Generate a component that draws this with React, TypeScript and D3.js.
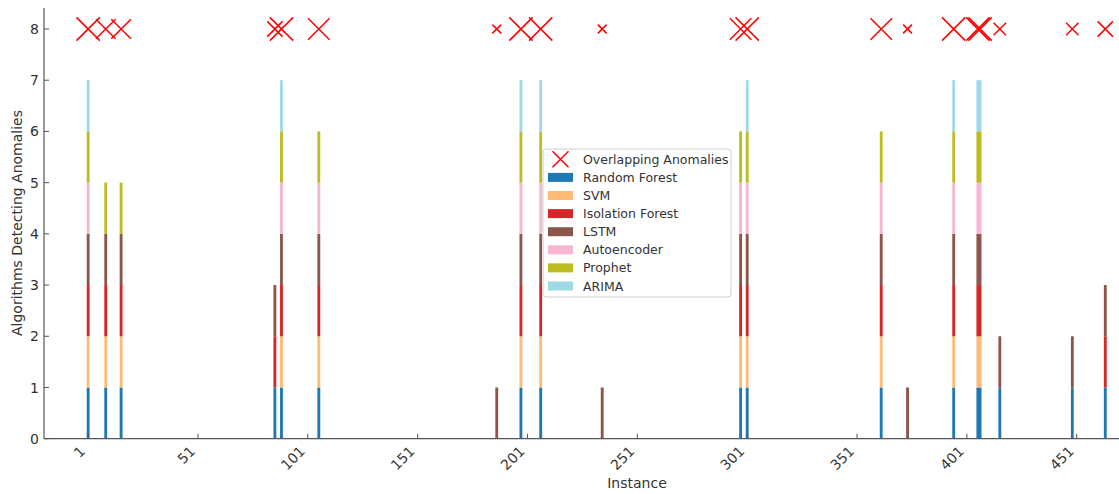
import React from "react";
import * as d3 from "d3";

const instances = [1, 9, 16, 86, 89, 106, 187, 198, 207, 235, 298, 301, 362, 374, 395, 406, 407, 416, 449, 464];
const algorithms = ["Random Forest", "SVM", "Isolation Forest", "LSTM", "Autoencoder", "Prophet", "ARIMA"];
const randomForest = [1, 1, 1, 1, 1, 1, 0, 1, 1, 0, 1, 1, 1, 0, 1, 1, 1, 1, 1, 1];
const svm =          [1, 1, 1, 0, 1, 1, 0, 1, 1, 0, 1, 1, 1, 0, 1, 1, 1, 0, 0, 0];
const isoForest =    [1, 1, 1, 1, 1, 1, 0, 1, 1, 0, 1, 1, 1, 0, 1, 1, 1, 0, 0, 1];
const lstm =         [1, 1, 1, 1, 1, 1, 1, 1, 1, 1, 1, 1, 1, 1, 1, 1, 1, 1, 1, 1];
const autoencoder =  [1, 0, 0, 0, 1, 1, 0, 1, 1, 0, 1, 1, 1, 0, 1, 1, 1, 0, 0, 0];
const prophet =      [1, 1, 1, 0, 1, 1, 0, 1, 1, 0, 1, 1, 1, 0, 1, 1, 1, 0, 0, 0];
const arima =        [1, 0, 0, 0, 1, 0, 0, 1, 1, 0, 0, 1, 0, 0, 1, 1, 1, 0, 0, 0];
const seriesValues = [randomForest, svm, isoForest, lstm, autoencoder, prophet, arima];
const colors = ["#1f77b4", "#ffbb78", "#d62728", "#8c564b", "#f7b6d2", "#bcbd22", "#9edae5"];
const xTicks = [1, 51, 101, 151, 201, 251, 301, 351, 401, 451];
const yTicks = [0, 1, 2, 3, 4, 5, 6, 7, 8];

const W = 1119;
const H = 494;
const FONT = "DejaVu Sans, sans-serif";
const TXT = "#333";

export default function App() {
  React.useEffect(() => {
    document.body.style.margin = "0";
  }, []);

  const x = d3.scaleLinear().domain([-19.1, 500]).range([44, 44 + 2.1968 * 519.1]);
  const y = d3.scaleLinear().domain([0, 8.41]).range([438.7, 8]);
  const barW = x(1.3) - x(0);

  const table = instances.map((inst, i) => {
    const row: any = { inst };
    algorithms.forEach((a, k) => (row[a] = seriesValues[k][i]));
    return row;
  });
  const stack = d3.stack().keys(algorithms)(table as any);
  const counts = instances.map((_, i) => seriesValues.reduce((s, arr) => s + arr[i], 0));

  const xMark = (cx: number, cy: number, half: number, key: string) => (
    <path
      key={key}
      d={`M${cx - half},${cy - half}L${cx + half},${cy + half}M${cx - half},${cy + half}L${cx + half},${cy - half}`}
      stroke="red"
      strokeWidth={1.5}
      fill="none"
    />
  );

  const legendRows = ["Overlapping Anomalies", ...algorithms];

  return (
    <svg width={W} height={H} style={{ display: "block" }} fontFamily={FONT}>
      <rect width={W} height={H} fill="white" />
      {/* bars */}
      {stack.map((layer, k) =>
        layer.map((seg: any, i: number) =>
          seg[1] - seg[0] > 0 ? (
            <rect
              key={`b${k}-${i}`}
              x={x(instances[i]) - barW / 2}
              y={y(seg[1])}
              width={barW}
              height={y(seg[0]) - y(seg[1])}
              fill={colors[k]}
            />
          ) : null
        )
      )}
      {/* markers */}
      {instances.map((inst, i) =>
        counts[i] > 0 ? xMark(x(inst), y(8), 4.4 * Math.sqrt(counts[i]), `m${i}`) : null
      )}
      {/* axes */}
      <line x1={44} x2={W} y1={y(0)} y2={y(0)} stroke="#555" strokeWidth={1.2} />
      <line x1={44} x2={44} y1={8} y2={y(0)} stroke="#555" strokeWidth={1.2} />
      {yTicks.map((t) => (
        <g key={`yt${t}`}>
          <line x1={44} x2={49} y1={y(t)} y2={y(t)} stroke="#555" strokeWidth={1} />
          <text x={39} y={y(t)} dy="0.36em" textAnchor="end" fontSize={14} fill={TXT}>
            {t}
          </text>
        </g>
      ))}
      {xTicks.map((t) => (
        <g key={`xt${t}`}>
          <line x1={x(t)} x2={x(t)} y1={y(0)} y2={y(0) - 5} stroke="#555" strokeWidth={1} />
          <text
            transform={`translate(${x(t) - 2},${y(0) + 13.5}) rotate(-45)`}
            textAnchor="end"
            fontSize={14}
            fill={TXT}
          >
            {t}
          </text>
        </g>
      ))}
      <text x={637} y={488} textAnchor="middle" fontSize={14} fill={TXT}>
        Instance
      </text>
      <text transform={`translate(22,223) rotate(-90)`} textAnchor="middle" fontSize={14} fill={TXT}>
        Algorithms Detecting Anomalies
      </text>
      {/* legend */}
      <rect x={543} y={149} width={188} height={148} rx={3} fill="white" fillOpacity={0.85} stroke="#d0d0d0" strokeWidth={1} />
      {legendRows.map((name, r) => {
        const cy = 159.3 + r * 18.1;
        return (
          <g key={`lg${r}`}>
            {r === 0 ? (
              xMark(560.5, cy, 8, "lgm")
            ) : (
              <rect x={548} y={cy - 4.5} width={25} height={9} fill={colors[r - 1]} />
            )}
            <text x={583} y={cy} dy="0.36em" fontSize={12.5} fill={TXT}>
              {name}
            </text>
          </g>
        );
      })}
    </svg>
  );
}
